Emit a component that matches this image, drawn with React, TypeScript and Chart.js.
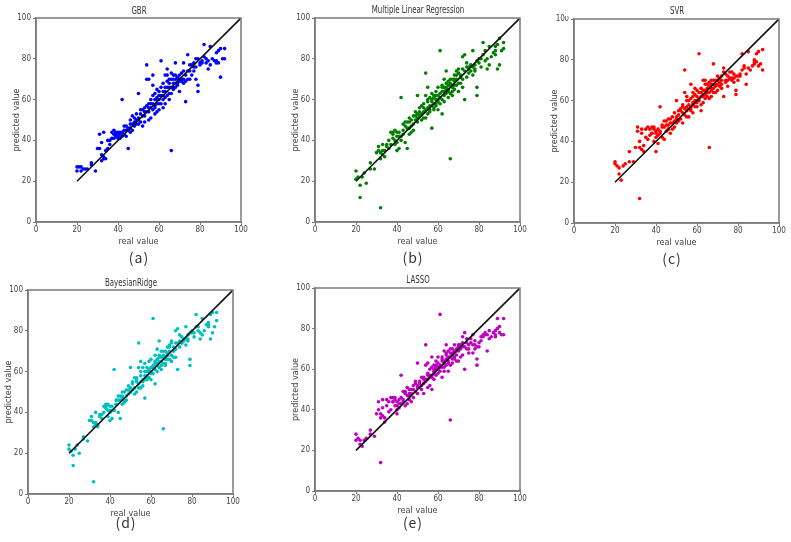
import React, { useEffect, useRef } from "react";
import { Chart, registerables } from "chart.js";
Chart.register(...registerables);

// ---- data ----
const realValue = [
  20, 20, 21, 22, 22, 23, 25, 27, 27, 29,
  30, 31, 31, 32, 32, 32, 33, 33, 34, 34,
  35, 36, 37, 37, 38, 38, 39, 39, 40, 40,
  40, 41, 41, 42, 42, 43, 43, 44, 44, 45,
  45, 46, 46, 46, 47, 47, 48, 48, 49, 49,
  50, 50, 50, 51, 51, 52, 52, 53, 53, 53,
  54, 54, 54, 55, 55, 55, 56, 56, 56, 57,
  57, 57, 58, 58, 58, 59, 59, 59, 60, 60,
  60, 61, 61, 61, 62, 62, 62, 63, 63, 63,
  64, 64, 64, 65, 65, 65, 66, 66, 66, 67,
  67, 67, 68, 68, 68, 69, 69, 70, 70, 70,
  71, 71, 72, 72, 73, 73, 74, 74, 75, 75,
  76, 77, 77, 78, 78, 79, 79, 79, 80, 81,
  82, 82, 83, 84, 84, 85, 85, 87, 88, 88,
  89, 89, 90, 90, 91, 92, 92,
  24, 33, 35, 36, 38, 39, 40, 41, 42, 43,
  44, 45, 46, 47, 48, 49, 50, 51, 52, 53,
  54, 55, 55, 56, 57, 57, 58, 58, 59, 59,
  60, 60, 61, 62, 62, 63, 63, 64, 64, 65,
  65, 66, 66, 67, 67, 68, 68, 69, 69, 70,
  71, 72, 72, 73, 74, 75, 76, 77, 78, 80,
  81, 83, 86, 88,
];

const gbrPred = [
  27, 25, 27, 25, 27, 26, 26, 28, 29, 25,
  36, 43, 36, 30, 39, 33, 31, 44, 31, 35,
  36, 40, 41, 44, 43, 45, 44, 42, 42, 41,
  44, 43, 44, 60, 42, 43, 47, 42, 45, 36,
  45, 44, 48, 46, 52, 45, 47, 49, 50, 48,
  51, 48, 63, 53, 49, 47, 55, 56, 52, 49,
  77, 70, 54, 70, 58, 50, 56, 51, 60, 67,
  55, 72, 60, 53, 57, 61, 54, 65, 62, 58,
  55, 79, 62, 66, 60, 56, 68, 64, 72, 58,
  69, 62, 75, 66, 60, 68, 35, 70, 63, 68,
  65, 72, 70, 66, 78, 71, 68, 64, 70, 69,
  73, 69, 78, 70, 59, 69, 74, 82, 77, 70,
  72, 78, 76, 80, 70, 64, 67, 80, 78, 78,
  87, 81, 80, 75, 79, 86, 77, 79, 83, 78,
  84, 78, 85, 71, 80, 85, 80,
  26, 32, 40, 38, 41, 43, 43, 41, 44, 45,
  47, 46, 50, 48, 51, 53, 50, 55, 52, 54,
  57, 54, 56, 58, 58, 62, 56, 63, 58, 60,
  64, 60, 58, 64, 62, 66, 61, 66, 72, 70,
  63, 66, 73, 70, 66, 68, 72, 67, 70, 72,
  70, 74, 68, 72, 70, 74, 77, 74, 76, 77,
  79, 78, 80, 79,
];

const mlrPred = [
  25, 21, 22, 18, 12, 22, 19, 29, 26, 26,
  34, 37, 35, 7, 34, 31, 33, 38, 35, 32,
  37, 40, 44, 38, 43, 41, 45, 38, 35, 42,
  39, 36, 44, 61, 42, 48, 45, 39, 47, 36,
  49, 43, 46, 51, 47, 44, 52, 45, 50, 54,
  49, 53, 62, 52, 56, 50, 57, 54, 58, 51,
  73, 62, 55, 66, 59, 53, 57, 54, 61, 46,
  59, 63, 56, 61, 55, 62, 58, 64, 60, 66,
  55, 84, 61, 58, 53, 64, 67, 62, 70, 59,
  65, 68, 74, 64, 61, 69, 31, 67, 63, 66,
  70, 62, 69, 72, 65, 72, 67, 64, 73, 75,
  71, 68, 81, 70, 60, 82, 76, 71, 76, 73,
  77, 84, 72, 77, 75, 62, 66, 79, 80, 76,
  88, 82, 79, 75, 80, 86, 77, 83, 82, 86,
  75, 87, 90, 77, 84, 88, 85,
  24, 35, 38, 36, 44, 40, 44, 42, 40, 43,
  49, 46, 49, 50, 48, 52, 51, 54, 53, 56,
  51, 56, 60, 55, 57, 60, 58, 62, 60, 57,
  62, 59, 63, 60, 66, 64, 66, 63, 66, 67,
  65, 68, 70, 67, 64, 70, 67, 70, 74, 68,
  72, 75, 66, 74, 78, 75, 74, 76, 74, 78,
  80, 84, 81, 84,
];

const svrPred = [
  30, 29, 28, 24, 27, 21, 29, 35, 30, 30,
  37, 47, 45, 12, 40, 37, 36, 46, 35, 38,
  42, 47, 46, 43, 47, 44, 40, 46, 35, 44,
  42, 39, 46, 57, 44, 48, 42, 41, 47, 45,
  50, 46, 51, 48, 49, 44, 52, 46, 50, 47,
  52, 49, 60, 55, 50, 51, 56, 58, 54, 49,
  75, 64, 56, 62, 57, 52, 58, 52, 60, 55,
  56, 68, 59, 54, 64, 60, 57, 66, 62, 57,
  65, 83, 60, 64, 55, 62, 66, 63, 70, 59,
  65, 61, 70, 64, 62, 66, 37, 67, 61, 65,
  68, 62, 66, 78, 64, 70, 67, 65, 70, 68,
  71, 67, 72, 68, 62, 76, 70, 69, 72, 67,
  71, 74, 71, 73, 69, 63, 65, 72, 70, 72,
  83, 75, 77, 68, 73, 84, 76, 77, 78, 80,
  79, 83, 84, 77, 78, 85, 75,
  28, 44, 46, 41, 44, 47, 45, 43, 45, 47,
  50, 48, 46, 51, 49, 54, 51, 53, 55, 57,
  53, 55, 60, 56, 57, 61, 58, 62, 59, 63,
  60, 59, 61, 58, 64, 62, 65, 63, 68, 64,
  68, 64, 69, 70, 66, 70, 68, 68, 64, 72,
  69, 70, 66, 74, 73, 70, 74, 70, 71, 72,
  73, 76, 75, 79,
];

const bayesPred = [
  24, 22, 21, 19, 14, 22, 20, 28, 27, 26,
  36, 38, 36, 6, 35, 33, 34, 40, 33, 34,
  38, 39, 43, 40, 42, 44, 44, 38, 36, 41,
  40, 37, 43, 61, 41, 46, 44, 40, 46, 37,
  48, 44, 47, 50, 46, 45, 51, 46, 49, 53,
  50, 52, 62, 51, 55, 49, 57, 55, 57, 50,
  74, 62, 54, 65, 58, 52, 56, 53, 62, 47,
  58, 64, 57, 60, 56, 61, 57, 65, 60, 66,
  56, 86, 62, 59, 54, 64, 68, 63, 71, 60,
  65, 68, 75, 63, 61, 70, 32, 67, 64, 66,
  70, 63, 68, 72, 66, 72, 66, 65, 74, 75,
  70, 67, 80, 71, 61, 81, 75, 72, 77, 74,
  76, 82, 73, 78, 76, 63, 66, 79, 80, 77,
  88, 82, 80, 76, 79, 86, 78, 83, 82, 84,
  76, 88, 89, 79, 82, 89, 85,
  24, 35, 39, 37, 43, 41, 43, 41, 41, 44,
  48, 46, 48, 50, 48, 51, 50, 54, 52, 56,
  52, 55, 60, 55, 56, 60, 58, 62, 60, 57,
  62, 59, 63, 61, 65, 64, 66, 62, 67, 67,
  65, 68, 70, 67, 64, 69, 68, 70, 73, 68,
  72, 74, 67, 74, 78, 74, 75, 76, 75, 79,
  79, 82, 80, 83,
];

const lassoPred = [
  28, 25, 26, 23, 25, 22, 26, 30, 28, 27,
  38, 44, 40, 14, 38, 36, 37, 45, 34, 36,
  42, 44, 46, 40, 46, 44, 42, 45, 38, 42,
  40, 41, 45, 57, 43, 49, 44, 42, 48, 43,
  51, 45, 47, 50, 48, 44, 52, 46, 49, 54,
  52, 48, 63, 53, 51, 50, 56, 55, 53, 48,
  72, 62, 55, 63, 57, 51, 56, 52, 60, 50,
  57, 66, 58, 55, 62, 61, 57, 64, 63, 58,
  66, 87, 61, 62, 56, 64, 65, 63, 69, 59,
  67, 62, 72, 64, 59, 69, 35, 68, 62, 67,
  70, 63, 68, 72, 65, 70, 67, 64, 72, 69,
  70, 66, 76, 71, 60, 78, 73, 70, 72, 68,
  75, 77, 68, 74, 70, 62, 65, 71, 71, 76,
  77, 76, 78, 69, 77, 79, 75, 78, 79, 76,
  80, 85, 81, 78, 77, 85, 77,
  25, 41, 45, 39, 44, 46, 44, 43, 46, 45,
  49, 47, 48, 50, 50, 53, 51, 54, 52, 56,
  54, 55, 58, 57, 56, 61, 59, 60, 60, 62,
  61, 60, 59, 61, 66, 64, 61, 65, 68, 66,
  63, 66, 70, 68, 65, 66, 69, 69, 64, 71,
  72, 73, 67, 71, 75, 70, 73, 72, 72, 73,
  74, 77, 76, 77,
];

const axisTicks = [0, 20, 40, 60, 80, 100];
const idealLine = [20, 100];

// ---- layout (page coordinates of each plot box) ----
type PanelCfg = {
  title: string;
  label: string;
  color: string;
  pred: number[];
  x0: number; x1: number; y0: number; y1: number;
  titleY: number;
  labelX: number; labelY: number;
  topTick?: string;
};

const panels: PanelCfg[] = [
  { title: "GBR", label: "(a)", color: "#0000ff", pred: gbrPred, x0: 36, x1: 241, y0: 18, y1: 222, titleY: 11, labelX: 139, labelY: 257 },
  { title: "Multiple Linear Regression", label: "(b)", color: "#008000", pred: mlrPred, x0: 315, x1: 520, y0: 18, y1: 222, titleY: 10, labelX: 413, labelY: 257 },
  { title: "SVR", label: "(c)", color: "#ff0000", pred: svrPred, x0: 574, x1: 779, y0: 19, y1: 223, titleY: 11, labelX: 672, labelY: 258, topTick: "10\u03c5" },
  { title: "BayesianRidge", label: "(d)", color: "#00bfbf", pred: bayesPred, x0: 28, x1: 233, y0: 290, y1: 494, titleY: 283, labelX: 126, labelY: 522 },
  { title: "LASSO", label: "(e)", color: "#bf00bf", pred: lassoPred, x0: 315, x1: 520, y0: 288, y1: 491, titleY: 280, labelX: 413, labelY: 522 },
];

const FONT = "'Liberation Sans Narrow', 'DejaVu Sans Condensed', 'Liberation Sans', sans-serif";
const Y_AXIS_W = 28;
const X_AXIS_H = 26;
const PAD_TOP = 10;
const PAD_RIGHT = 12;
const SPINE = "#7a7a7a";
const TEXT = "#444";

const framePlugin = {
  id: "frame",
  afterDraw(chart: any) {
    const { ctx, chartArea } = chart;
    ctx.save();
    ctx.strokeStyle = SPINE;
    ctx.lineWidth = 1.5;
    ctx.strokeRect(chartArea.left, chartArea.top, chartArea.right - chartArea.left, chartArea.bottom - chartArea.top);
    ctx.restore();
  },
};

function Panel({ cfg }: { cfg: PanelCfg }) {
  const ref = useRef<HTMLCanvasElement | null>(null);
  const width = Y_AXIS_W + (cfg.x1 - cfg.x0) + PAD_RIGHT;
  const height = PAD_TOP + (cfg.y1 - cfg.y0) + X_AXIS_H;

  useEffect(() => {
    if (!ref.current) return;
    const points = realValue.map((x, i) => ({ x, y: cfg.pred[i] }));
    const line = idealLine.map((v) => ({ x: v, y: v }));
    const tickSet = (s: any) => {
      s.ticks = axisTicks.map((v) => ({ value: v }));
    };
    const chart = new Chart(ref.current, {
      type: "scatter",
      data: {
        datasets: [
          {
            type: "line" as any,
            data: line,
            borderColor: "#111",
            borderWidth: 1.6,
            pointRadius: 0,
            fill: false,
            order: 0,
          } as any,
          {
            data: points,
            backgroundColor: cfg.color,
            borderColor: cfg.color,
            borderWidth: 0,
            pointRadius: 1.8,
            order: 1,
          },
        ],
      },
      options: {
        animation: false,
        responsive: false,
        devicePixelRatio: 1,
        layout: { padding: { top: PAD_TOP, right: PAD_RIGHT, left: 0, bottom: 0 } },
        plugins: {
          legend: { display: false },
          tooltip: { enabled: false },
          title: { display: false },
        },
        scales: {
          x: {
            type: "linear",
            min: 0,
            max: 100,
            afterBuildTicks: tickSet,
            afterFit: (s: any) => { s.height = X_AXIS_H; },
            ticks: { color: TEXT, padding: 0, maxRotation: 0, font: { family: FONT, size: 8 } },
            grid: { drawOnChartArea: false, drawTicks: true, tickLength: 3, color: SPINE },
            border: { color: SPINE, width: 1.5 },
            title: { display: true, text: "real value", color: TEXT, font: { family: FONT, size: 9 }, padding: { top: 0, bottom: 1 } },
          },
          y: {
            type: "linear",
            min: 0,
            max: 100,
            afterBuildTicks: tickSet,
            afterFit: (s: any) => { s.width = Y_AXIS_W; },
            ticks: {
              color: TEXT,
              padding: 2,
              font: { family: FONT, size: 8 },
              callback: (v: any) => (v === 100 && cfg.topTick ? cfg.topTick : String(v)),
            },
            grid: { drawOnChartArea: false, drawTicks: true, tickLength: 3, color: SPINE },
            border: { color: SPINE, width: 1.5 },
            title: { display: true, text: "predicted value", color: TEXT, font: { family: FONT, size: 9 }, padding: { top: 3, bottom: 0 } },
          },
        },
      },
      plugins: [framePlugin],
    });
    return () => chart.destroy();
  }, [cfg]);

  const cx = (cfg.x0 + cfg.x1) / 2;
  return (
    <>
      <canvas
        ref={ref}
        width={width}
        height={height}
        style={{ position: "absolute", left: cfg.x0 - Y_AXIS_W, top: cfg.y0 - PAD_TOP, width, height }}
      />
      <div
        style={{
          position: "absolute", left: cx - 100, width: 200, top: cfg.titleY - 7, height: 14,
          lineHeight: "14px", textAlign: "center", fontFamily: FONT, fontSize: 10, color: "#333",
          transform: "scaleX(0.78)", transformOrigin: "50% 50%",
        }}
      >
        {cfg.title}
      </div>
      <div
        style={{
          position: "absolute", left: cfg.labelX - 30, width: 60, top: cfg.labelY - 10, height: 20,
          lineHeight: "20px", textAlign: "center", fontFamily: "'Noto Sans CJK SC', 'Noto Sans', sans-serif",
          fontSize: 14, letterSpacing: 1, color: "#333",
        }}
      >
        {cfg.label}
      </div>
    </>
  );
}

export default function App() {
  return (
    <div style={{ position: "absolute", left: 0, top: 0, width: 791, height: 542, background: "#fff", overflow: "hidden" }}>
      {panels.map((p) => (
        <Panel key={p.label} cfg={p} />
      ))}
    </div>
  );
}
